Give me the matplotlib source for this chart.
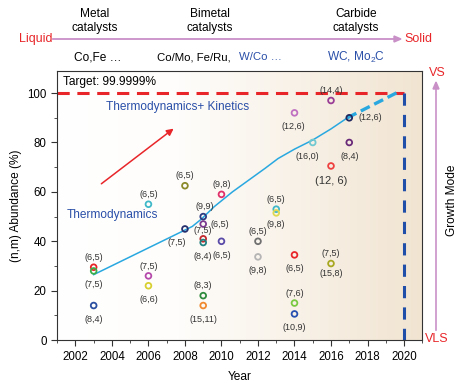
import matplotlib.pyplot as plt
import numpy as np
from matplotlib.colors import LinearSegmentedColormap

plt.rcParams['font.family'] = ['Liberation Sans', 'DejaVu Sans']
plt.rcParams['mathtext.fontset'] = 'custom'
plt.rcParams['mathtext.rm'] = 'Liberation Sans'

# 数据点 (年份, 丰度, 手性标签, 颜色)
years = [2003, 2003, 2003,
         2006, 2006, 2006,
         2008, 2008,
         2009, 2009, 2009, 2009, 2009, 2009,
         2010, 2010,
         2012, 2012,
         2013, 2013,
         2014, 2014, 2014, 2014,
         2015,
         2016, 2016, 2016,
         2017, 2017]
abundance = [29.5, 28, 14,
             55, 26, 22,
             62.5, 45,
             50, 47, 41, 39.5, 18, 14,
             59, 40,
             40, 33.7,
             53, 51.5,
             92, 34.5, 15, 10.6,
             80,
             97, 70.5, 31,
             90, 80]
labels = ['(6,5)', '(7,5)', '(8,4)',
          '(6,5)', '(7,5)', '(6,6)',
          '(6,5)', '(7,5)',
          '(9,9)', '(6,5)', '(7,5)', '(8,4)', '(8,3)', '(15,11)',
          '(9,8)', '(6,5)',
          '(6,5)', '(9,8)',
          '(6,5)', '(9,8)',
          '(12,6)', '(6,5)', '(7,6)', '(10,9)',
          '(16,0)',
          '(14,4)', '(12, 6)', '(7,5)\n\n(15,8)',
          '(12,6)', '(8,4)']
colors = ['#e8262a', '#3cae4a', '#2b4fa0',
          '#3fb8c8', '#b54aab', '#d8d030',
          '#8a8a2a', '#27306e',
          '#2c3a80', '#7a3b8f', '#c0282d', '#1e8080', '#2e8b3e', '#f08a30',
          '#e0306a', '#5a4aa8',
          '#707070', '#b5b5b5',
          '#40b8c8', '#e0d850',
          '#c070c0', '#e8262a', '#7ac943', '#2850b0',
          '#70c8d0',
          '#9a3d96', '#ef4040', '#a8a820',
          '#202860', '#6a2a7a']
# 标签相对位置 (点)
label_offsets = [(0, 7), (0, -10), (0, -10),
                 (0, 7), (0, 7), (0, -10),
                 (0, 7), (-6, -10),
                 (1, 7), (12, 0), (0, 6), (0, -10), (0, 7), (0, -10),
                 (0, 7), (0, -10),
                 (0, 7), (0, -10),
                 (0, 7), (0, -8),
                 (-1, -10), (0, -10), (0, 7), (0, -10),
                 (-4, -10),
                 (0, 7), (0, -11), (0, 0),
                 (15, 0), (0, -10)]

# 趋势线
trend_x = [2003, 2008.4, 2008.9, 2009.6, 2010.6, 2011.5, 2012.4, 2013.1, 2014, 2015, 2016, 2016.9]
trend_y = [26.5, 46, 49, 54, 60, 64.8, 69.6, 73.5, 77.3, 81, 85.5, 90]
trend_dash_x = [2016.9, 2019.7]
trend_dash_y = [90, 100.5]

fig = plt.figure(figsize=(4.61, 3.83), dpi=100)
ax = fig.add_axes([0.124, 0.112, 0.792, 0.703])
ax.set_xlim(2001, 2021)
ax.set_ylim(0, 109)

# 背景渐变
cmap = LinearSegmentedColormap.from_list('bg', ['#ffffff', '#fefdfb', '#f8f1e7', '#f1e4d1'])
grad = np.linspace(0, 1, 256).reshape(1, -1)
ax.imshow(grad, extent=[2001, 2021, 0, 109], aspect='auto', cmap=cmap, zorder=0)

ax.plot([2001, 2020], [100, 100], color='#e8262a', lw=2.2, ls=(0, (4, 2.5)), zorder=2)
ax.plot([2020, 2020], [100, 0], color='#1f4fa8', lw=2.2, ls=(0, (4, 3)), zorder=2)
ax.plot(trend_x, trend_y, color='#29a8e0', lw=1.1, zorder=2)
ax.plot(trend_dash_x, trend_dash_y, color='#29a8e0', lw=2.4, ls=(0, (3, 1.5)), zorder=2)

ax.scatter(years, abundance, s=17, facecolors='none', edgecolors=colors, linewidths=1.3, zorder=3)
for x, y, t, (dx, dy) in zip(years, abundance, labels, label_offsets):
    fs = 8 if t == '(12, 6)' else 6.5
    ax.annotate(t, (x, y), xytext=(dx, dy), textcoords='offset points',
                ha='center', va='center', fontsize=fs, color='#333333', zorder=4)

ax.text(2001.3, 104.5, 'Target: 99.9999%', fontsize=8.6, va='center', ha='left')
ax.text(2007.6, 94.5, 'Thermodynamics+ Kinetics', fontsize=8.6, color='#2a4fa8', ha='center', va='center')
ax.text(2001.5, 50.5, 'Thermodynamics', fontsize=8.6, color='#2a4fa8', ha='left', va='center')
ax.annotate('', xy=(2007.5, 86.3), xytext=(2003.3, 62.6),
            arrowprops=dict(arrowstyle='-|>', color='#e8262a', lw=1.1, mutation_scale=10))

ax.set_xticks(range(2002, 2021, 2))
ax.set_xticks(range(2001, 2022), minor=True)
ax.set_yticks(range(0, 101, 20))
ax.set_yticks(range(0, 110, 10), minor=True)
ax.tick_params(which='both', direction='out', labelsize=8.3, color='#333333')
ax.tick_params(which='major', length=4)
ax.tick_params(which='minor', length=2.5)
for s in ax.spines.values():
    s.set_color('#333333')
    s.set_linewidth(0.8)
ax.set_xlabel('Year', fontsize=8.6, labelpad=6)
ax.set_ylabel('(n,m) Abundance (%)', fontsize=8.6, labelpad=4)

# 顶部: 催化剂类型
pink = '#c990c8'
fs_top = 8.6
fig.text(95 / 461, 1 - 21 / 383, 'Metal\ncatalysts', ha='center', va='center', fontsize=fs_top, linespacing=1.15)
fig.text(210 / 461, 1 - 21 / 383, 'Bimetal\ncatalysts', ha='center', va='center', fontsize=fs_top, linespacing=1.15)
fig.text(356 / 461, 1 - 21 / 383, 'Carbide\ncatalysts', ha='center', va='center', fontsize=fs_top, linespacing=1.15)
fig.text(52 / 461, 1 - 39 / 383, 'Liquid', ha='right', va='center', fontsize=9, color='#e8262a')
fig.text(404 / 461, 1 - 39 / 383, 'Solid', ha='left', va='center', fontsize=9, color='#e8262a')
fig.add_artist(plt.Line2D([53 / 461, 398 / 461], [1 - 39 / 383, 1 - 39 / 383], color=pink, lw=1.3))
fig.patches.append(plt.Polygon([[394 / 461, 1 - 36 / 383], [394 / 461, 1 - 42 / 383], [401 / 461, 1 - 39 / 383]],
                               closed=True, color=pink, transform=fig.transFigure, figure=fig))
fig.text(98 / 461, 1 - 57 / 383, 'Co,Fe …', ha='center', va='center', fontsize=fs_top)
fig.text(157 / 461, 1 - 57 / 383, 'Co/Mo, Fe/Ru,', ha='left', va='center', fontsize=8.2)
fig.text(239 / 461, 1 - 57 / 383, 'W/Co …', ha='left', va='center', fontsize=8.2, color='#2a4fa8')
fig.text(356 / 461, 1 - 57 / 383, r'WC, Mo$\mathregular{_2}$C', ha='center', va='center', fontsize=fs_top, color='#2a4fa8')

# 右侧: 生长模式
fig.text(437 / 461, 1 - 73 / 383, 'VS', ha='center', va='center', fontsize=9, color='#e8262a')
fig.text(437 / 461, 1 - 339 / 383, 'VLS', ha='center', va='center', fontsize=9, color='#e8262a')
fig.add_artist(plt.Line2D([436 / 461, 436 / 461], [1 - 330 / 383, 1 - 86 / 383], color=pink, lw=1.2))
fig.patches.append(plt.Polygon([[433 / 461, 1 - 89 / 383], [439 / 461, 1 - 89 / 383], [436 / 461, 1 - 82 / 383]],
                               closed=True, color=pink, transform=fig.transFigure, figure=fig))
fig.text(452 / 461, 1 - 200 / 383, 'Growth Mode', ha='center', va='center', fontsize=8.6, rotation=90)

plt.savefig('out.png', dpi=100)
